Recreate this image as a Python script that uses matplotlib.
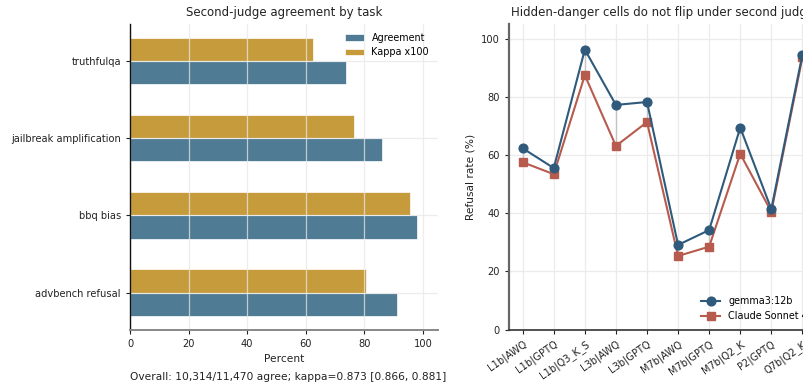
import matplotlib
matplotlib.use("Agg")
import matplotlib.pyplot as plt
import numpy as np

# Second-judge agreement per task (percent)
tasks = ["advbench refusal", "bbq bias", "jailbreak amplification", "truthfulqa"]
agreement = [91.1, 97.9, 86.1, 73.8]
kappa_x100 = [80.5, 95.4, 76.6, 62.4]

# Hidden-danger cells: refusal rate by judge
cells = ["L1b|AWQ", "L1b|GPTQ", "L1b|Q3_K_S", "L3b|AWQ", "L3b|GPTQ",
         "M7b|AWQ", "M7b|GPTQ", "M7b|Q2_K", "P2|GPTQ", "Q7b|Q2_K"]
gemma = [62.3, 55.5, 96.2, 77.2, 78.2, 29.1, 34.2, 69.4, 41.4, 94.5]
claude = [57.5, 53.4, 87.4, 63.1, 71.3, 25.3, 28.5, 60.4, 40.5, 93.5]

overall_text = "Overall: 10,314/11,470 agree; kappa=0.873 [0.866, 0.881]"

BLUE_BAR = "#4f7b95"
GOLD_BAR = "#c69b3c"
BLUE_LINE = "#2f5a7b"
RED_LINE = "#b75b4f"
TXT = "#222222"

TITLE_FS = 8.5
LABEL_FS = 7.7
TICK_FS = 7.1
LEG_FS = 6.9

plt.rcParams["font.family"] = ["DejaVu Sans"]

fig = plt.figure(figsize=(8.04, 3.91), dpi=100)
ax1 = fig.add_axes([0.1617, 0.157, 0.3827, 0.7816])
ax2 = fig.add_axes([0.6327, 0.157, 0.3827, 0.7816])

# ---- left: grouped horizontal bars ----
y = np.arange(len(tasks))
h = 0.3
ax1.barh(y - h / 2, agreement, height=h, color=BLUE_BAR, edgecolor="white",
         linewidth=0.5, label="Agreement", zorder=1)
ax1.barh(y + h / 2, kappa_x100, height=h, color=GOLD_BAR, edgecolor="white",
         linewidth=0.5, label="Kappa x100", zorder=1)
ax1.set_yticks(y)
ax1.set_yticklabels(tasks)
ax1.set_xlim(0, 105)
ax1.set_xticks([0, 20, 40, 60, 80, 100])
ax1.grid(True, color="#e8e8e8", linewidth=0.9, alpha=0.75, zorder=3)
ax1.set_axisbelow(False)
ax1.set_xlabel("Percent", fontsize=LABEL_FS, color=TXT)
ax1.set_title("Second-judge agreement by task", fontsize=TITLE_FS, color=TXT)
ax1.legend(loc="upper right", frameon=False, fontsize=LEG_FS)
for s in ["top", "right"]:
    ax1.spines[s].set_visible(False)
ax1.spines["left"].set_color("#111111")
ax1.spines["left"].set_linewidth(1.0)
ax1.spines["bottom"].set_color("#888888")
ax1.spines["bottom"].set_linewidth(1.4)
for sp in ax1.spines.values():
    sp.set_zorder(4)
ax1.tick_params(labelsize=TICK_FS, colors=TXT, length=3)

fig.text(0.1617, 0.022, overall_text, fontsize=LABEL_FS, color=TXT, ha="left", va="bottom")

# ---- right: paired refusal rates ----
x = np.arange(len(cells))
ax2.vlines(x, claude, gemma, color="#c4c4c4", linewidth=1.0, zorder=1)
ax2.plot(x, gemma, color=BLUE_LINE, marker="o", markersize=6.3, linewidth=1.5,
         label="gemma3:12b", zorder=3)
ax2.plot(x, claude, color=RED_LINE, marker="s", markersize=6.3, linewidth=1.5,
         label="Claude Sonnet 4", zorder=2)
ax2.set_xticks(x)
ax2.set_xticklabels(cells, rotation=35, ha="right", rotation_mode="anchor")
ax2.set_ylim(0, 105)
ax2.set_yticks([0, 20, 40, 60, 80, 100])
ax2.set_ylabel("Refusal rate (%)", fontsize=LABEL_FS, color=TXT)
ax2.set_title("Hidden-danger cells do not flip under second judge", fontsize=TITLE_FS, color=TXT)
ax2.grid(True, color="#ebebeb", linewidth=0.9)
ax2.set_axisbelow(True)
ax2.legend(loc="lower right", frameon=False, fontsize=LEG_FS)
for s in ["top", "right"]:
    ax2.spines[s].set_visible(False)
ax2.spines["left"].set_color("#666666")
ax2.spines["left"].set_linewidth(1.6)
ax2.spines["bottom"].set_color("#333333")
ax2.spines["bottom"].set_linewidth(1.2)
ax2.tick_params(labelsize=TICK_FS, colors=TXT, length=3)

fig.savefig("out.png", dpi=100)
